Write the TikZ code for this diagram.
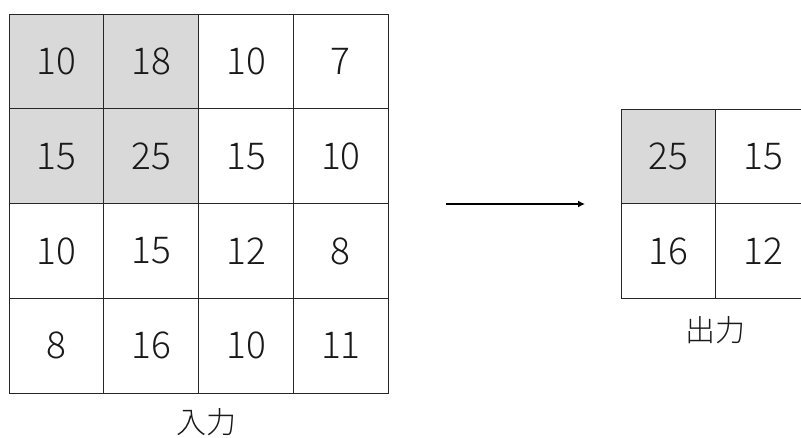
\documentclass[tikz,border=0pt]{standalone}
\usepackage{fontspec}
\setmainfont{Noto Sans CJK JP Light}
\usetikzlibrary{arrows.meta}
\definecolor{cellgray}{HTML}{D9D9D9}
\tikzset{
  cell/.style={draw=black!85, line width=0.8pt, minimum width=94.8pt, minimum height=94.8pt, inner sep=0pt, font=\fontsize{37}{37}\selectfont, text=black!90},
  hl/.style={fill=cellgray},
  caplabel/.style={font=\fontsize{30}{30}\selectfont, text=black!90, inner sep=0pt},
  arr/.style={line width=2.4pt, -{Latex[length=7pt,width=7pt]}}
}
\begin{document}
\begin{tikzpicture}[x=1pt,y=-1pt]
\useasboundingbox (0,0) rectangle (801,437);
\clip (0,0) rectangle (801,437);
\fill[white] (0,0) rectangle (801,437);
% input grid
\node[cell,hl] (i11) at (9+47.4,14+47.4) {10};
\node[cell,hl] (i12) at (9+142.2,14+47.4) {18};
\node[cell] (i13) at (9+237,14+47.4) {10};
\node[cell] (i14) at (9+331.8,14+47.4) {7};
\node[cell,hl] (i21) at (9+47.4,14+142.2) {15};
\node[cell,hl] (i22) at (9+142.2,14+142.2) {25};
\node[cell] (i23) at (9+237,14+142.2) {15};
\node[cell] (i24) at (9+331.8,14+142.2) {10};
\node[cell] (i31) at (9+47.4,14+237) {10};
\node[cell] (i32) at (9+142.2,14+237) {15};
\node[cell] (i33) at (9+237,14+237) {12};
\node[cell] (i34) at (9+331.8,14+237) {8};
\node[cell] (i41) at (9+47.4,14+331.8) {8};
\node[cell] (i42) at (9+142.2,14+331.8) {16};
\node[cell] (i43) at (9+237,14+331.8) {10};
\node[cell] (i44) at (9+331.8,14+331.8) {11};
% output grid
\node[cell,hl] (o11) at (621+47.4,109+47.4) {25};
\node[cell] (o12) at (621+142.2,109+47.4) {15};
\node[cell] (o21) at (621+47.4,109+142.2) {16};
\node[cell] (o22) at (621+142.2,109+142.2) {12};
% captions
\node[caplabel] (inlabel) at (206,422) {入力};
\node[caplabel] (outlabel) at (715,330) {出力};
% arrow
\coordinate (a1) at (446,204);
\coordinate (a2) at (585,204);
\draw[arr] (a1) -- (a2);
\end{tikzpicture}
\end{document}
